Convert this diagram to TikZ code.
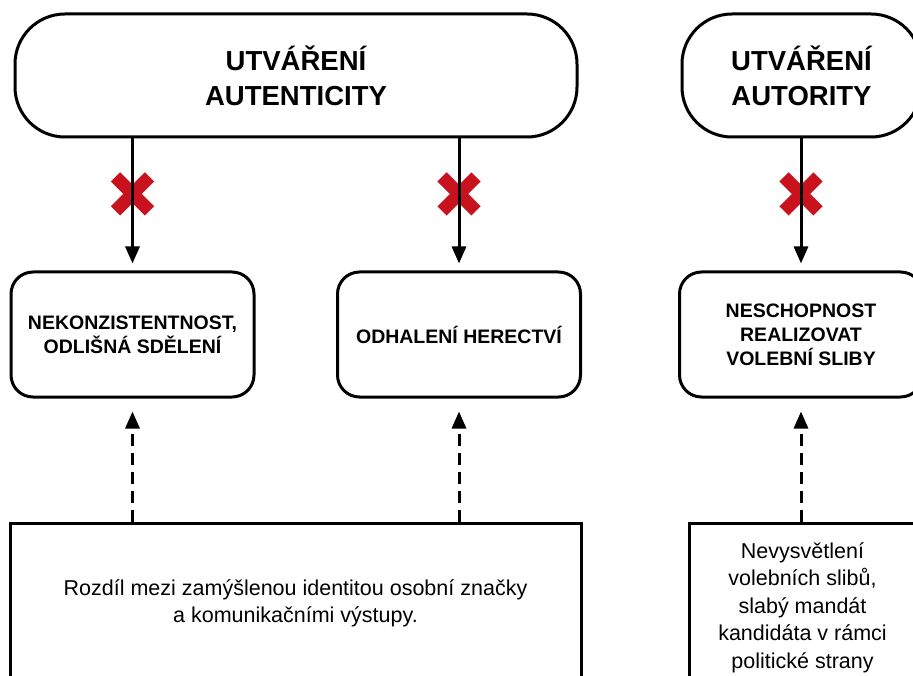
\documentclass[tikz,border=0pt]{standalone}
\usepackage{fontspec}
\setmainfont{Liberation Sans}
\usepackage{xcolor}
\usetikzlibrary{arrows.meta,positioning,shapes.misc}
\definecolor{crossred}{HTML}{C8131F}
\tikzset{
  headbox/.style={rectangle,rounded corners=50pt,draw=black,line width=3pt,
    minimum height=123pt,align=center,font=\fontsize{27.5}{35}\selectfont\bfseries},
  effectbox/.style={rectangle,rounded corners=22pt,draw=black,line width=3pt,
    minimum width=243pt,minimum height=125pt,align=center,font=\fontsize{19.5}{24}\selectfont\bfseries},
  causebox/.style={rectangle,draw=black,line width=3pt,align=center,
    font=\fontsize{21.5}{27.5}\selectfont},
  arrow/.style={-{Triangle[length=17pt,width=14pt]},line width=3pt,draw=black,shorten >=7pt},
  dasharrow/.style={arrow,dash pattern=on 12pt off 7pt,shorten >=13pt},
  xmark/.style={cross out,draw=crossred,line width=13pt,minimum size=34pt,inner sep=0pt,outer sep=0pt}
}
\begin{document}
\begin{tikzpicture}[x=1pt,y=-1pt]
\useasboundingbox (0,0) rectangle (913,676);
\clip (0,0) rectangle (913,676);
\node[headbox,minimum width=562pt] (autent) at (296,75.5) {UTVÁŘENÍ\\AUTENTICITY};
\node[headbox,minimum width=239pt] (autor) at (801.5,75.5) {UTVÁŘENÍ\\AUTORITY};
\node[effectbox] (nekon) at (132.5,334.5) {NEKONZISTENTNOST,\\ODLIŠNÁ SDĚLENÍ};
\node[effectbox] (herec) at (459,334.5) {ODHALENÍ HERECTVÍ};
\node[effectbox] (neschop) at (801,334.5) {NESCHOPNOST\\REALIZOVAT\\VOLEBNÍ SLIBY};
\node[causebox,minimum width=571pt,minimum height=161pt] (rozdil) at (295.5,603.5)
  {Rozdíl mezi zamýšlenou identitou osobní značky\\a komunikačními výstupy.};
\node[causebox,minimum width=227pt,minimum height=169pt] (nevysv) at (802.5,607.5)
  {Nevysvětlení\\volebních slibů,\\slabý mandát\\kandidáta v rámci\\politické strany};
\path (autent.south -| nekon.north) -- node[pos=0.42,xmark] {} (nekon.north);
\path (autent.south -| herec.north) -- node[pos=0.42,xmark] {} (herec.north);
\path (autor.south -| neschop.north) -- node[pos=0.42,xmark] {} (neschop.north);
\draw[arrow] (autent.south -| nekon.north) -- (nekon.north);
\draw[arrow] (autent.south -| herec.north) -- (herec.north);
\draw[arrow] (autor.south -| neschop.north) -- (neschop.north);
\draw[dasharrow] (rozdil.north -| nekon.south) -- (nekon.south);
\draw[dasharrow] (rozdil.north -| herec.south) -- (herec.south);
\draw[dasharrow] (nevysv.north -| neschop.south) -- (neschop.south);
\end{tikzpicture}
\end{document}
